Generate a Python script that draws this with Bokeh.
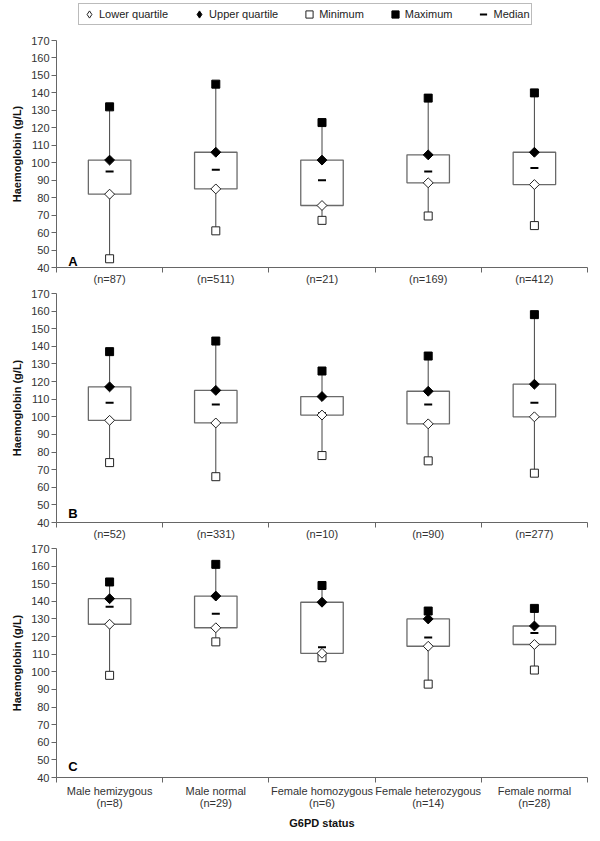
import math
from bokeh.plotting import figure
from bokeh.models import Range1d, FixedTicker, Legend, LegendItem, Label, ColumnDataSource
from bokeh.layouts import column
from bokeh.embed import file_html
from bokeh.resources import INLINE

# ---------------- data ----------------
CATEGORIES = ["Male hemizygous", "Male normal", "Female homozygous",
              "Female heterozygous", "Female normal"]
Y_TICKS = [40, 50, 60, 70, 80, 90, 100, 110, 120, 130, 140, 150, 160, 170]

# Panel A
N_A = [87, 511, 21, 169, 412]
MIN_A = [45, 61, 67, 69.5, 64]
LQ_A = [82, 85, 75.5, 88.5, 87.5]
MED_A = [95, 96, 90, 95, 97]
UQ_A = [101.5, 106, 101.5, 104.5, 106]
MAX_A = [132, 145, 123, 137, 140]

# Panel B
N_B = [52, 331, 10, 90, 277]
MIN_B = [74, 66, 78, 75, 68]
LQ_B = [98, 96.5, 101, 96, 100]
MED_B = [108, 107, 102, 107, 108]
UQ_B = [117, 115, 111.5, 114.5, 118.5]
MAX_B = [137, 143, 126, 134.5, 158]

# Panel C
N_C = [8, 29, 6, 14, 28]
MIN_C = [98, 117, 108, 93, 101]
LQ_C = [127, 125, 110.5, 114.5, 115.5]
MED_C = [137, 133, 114, 119.5, 122]
UQ_C = [141.5, 143, 139.5, 130, 126]
MAX_C = [151, 161, 149, 134.5, 136]

LEGEND_LABELS = ["Lower quartile", "Upper quartile", "Minimum", "Maximum", "Median"]

FONT = "Liberation Sans"
AXIS_COL = "#666666"


def make_panel(letter, ns, mins, lqs, meds, uqs, maxs, frame_h, top,
               letter_y, names=False):
    n = len(CATEGORIES)
    xs = [i + 0.5 for i in range(n)]
    src = ColumnDataSource(dict(x=xs, mn=mins, lq=lqs, md=meds, uq=uqs, mx=maxs))
    p = figure(frame_width=531, frame_height=frame_h,
               x_range=Range1d(0, n), y_range=Range1d(Y_TICKS[0], Y_TICKS[-1]),
               output_backend="svg", toolbar_location=None,
               min_border_left=56, min_border_right=5,
               min_border_top=top, min_border_bottom=0)
    p.outline_line_color = None
    p.xgrid.visible = False
    p.ygrid.visible = False
    p.background_fill_color = "white"

    p.segment(x0="x", y0="mn", x1="x", y1="mx", source=src,
              line_color="#444444", line_width=1)
    p.vbar(x="x", width=0.4, bottom="lq", top="uq", source=src,
           fill_color="white", line_color="#6a6a6a", line_width=1.3)
    p.scatter("x", "md", marker="dash", size=8, line_width=2,
              line_color="black", source=src)
    p.scatter("x", "mn", marker="square", size=8, fill_color="white",
              line_color="#222222", line_width=1, source=src)
    p.scatter("x", "mx", marker="square", size=8, fill_color="black",
              line_color="black", line_width=1, source=src)
    p.scatter("x", "lq", marker="square", angle=math.pi / 4, size=7,
              fill_color="white", line_color="#222222", line_width=1, source=src)
    p.scatter("x", "uq", marker="square", angle=math.pi / 4, size=7,
              fill_color="black", line_color="black", line_width=1, source=src)

    # y axis
    ya = p.yaxis[0]
    ya.ticker = FixedTicker(ticks=Y_TICKS)
    ya.axis_label = "Haemoglobin (g/L)"
    ya.axis_label_text_font = FONT
    ya.axis_label_text_font_style = "bold"
    ya.axis_label_text_font_size = "11px"
    ya.axis_label_text_color = "#111111"
    ya.axis_label_standoff = 5
    ya.major_label_text_font = FONT
    ya.major_label_text_font_size = "11px"
    ya.major_label_text_color = "#333333"
    ya.major_label_standoff = 2
    ya.major_tick_out = 5
    ya.major_tick_in = 0
    ya.minor_tick_out = 0
    ya.minor_tick_in = 0
    ya.axis_line_color = AXIS_COL
    ya.major_tick_line_color = AXIS_COL

    # x axis
    xa = p.xaxis[0]
    xa.ticker = FixedTicker(ticks=xs, minor_ticks=list(range(n + 1)))
    if names:
        labels = {x: f"{c}\n(n={k})" for x, c, k in zip(xs, CATEGORIES, ns)}
        xa.axis_label = "G6PD status"
        xa.axis_label_text_font = FONT
        xa.axis_label_text_font_style = "bold"
        xa.axis_label_text_font_size = "11px"
        xa.axis_label_text_color = "#111111"
        xa.axis_label_standoff = 5
        xa.major_label_standoff = 2
        xa.major_label_text_line_height = 1.0
    else:
        labels = {x: f"(n={k})" for x, k in zip(xs, ns)}
        xa.axis_label_standoff = 0
        xa.major_label_standoff = 0
    xa.major_label_overrides = labels
    xa.major_label_text_font = FONT
    xa.major_label_text_font_size = "11px"
    xa.major_label_text_color = "#333333"
    xa.major_tick_out = 0
    xa.major_tick_in = 0
    xa.minor_tick_out = 5
    xa.minor_tick_in = 0
    xa.axis_line_color = AXIS_COL
    xa.minor_tick_line_color = AXIS_COL

    p.add_layout(Label(x=0.11, y=letter_y, text=letter, text_font=FONT,
                       text_font_style="bold", text_font_size="13px",
                       text_color="black", text_baseline="alphabetic"))
    return p


# ---------------- legend strip ----------------
pL = figure(frame_width=592, frame_height=30, x_range=Range1d(0, 1),
            y_range=Range1d(0, 1), x_axis_type=None, y_axis_type=None,
            output_backend="svg", toolbar_location=None,
            min_border_left=0, min_border_right=0,
            min_border_top=0, min_border_bottom=0)
pL.outline_line_color = None
pL.xgrid.visible = False
pL.ygrid.visible = False


def legend_marker(**kw):
    r = pL.scatter("x", "y", source=ColumnDataSource(dict(x=[0], y=[0])), **kw)
    r.visible = False
    return r


l_lq = legend_marker(marker="diamond", size=9, fill_color="white",
                     line_color="#222222", line_width=1)
l_uq = legend_marker(marker="diamond", size=9, fill_color="black",
                     line_color="black", line_width=1)
l_mn = legend_marker(marker="square", size=8, fill_color="white",
                     line_color="#222222", line_width=1)
l_mx = legend_marker(marker="square", size=8, fill_color="black",
                     line_color="black", line_width=1)
l_md = legend_marker(marker="dash", size=8, line_color="black", line_width=2)

legend = Legend(items=[LegendItem(label=l, renderers=[r]) for l, r in
                       zip(LEGEND_LABELS, [l_lq, l_uq, l_mn, l_mx, l_md])],
                orientation="horizontal", location=(78, 5),
                label_text_font=FONT, label_text_font_size="11px",
                label_text_color="#222222",
                glyph_width=18, glyph_height=18, label_height=18,
                label_standoff=1, spacing=22, padding=1, margin=0,
                border_line_color="#777777", border_line_width=1,
                background_fill_color="white", background_fill_alpha=1,
                inactive_fill_alpha=0)
pL.add_layout(legend)

pA = make_panel("A", N_A, MIN_A, LQ_A, MED_A, UQ_A, MAX_A, 227, 10, 43.5)
pB = make_panel("B", N_B, MIN_B, LQ_B, MED_B, UQ_B, MAX_B, 229, 6, 45)
pC = make_panel("C", N_C, MIN_C, LQ_C, MED_C, UQ_C, MAX_C, 229, 6, 46.3,
                names=True)

layout = column(pL, pA, pB, pC)
open("out.html", "w").write(file_html(layout, INLINE))
